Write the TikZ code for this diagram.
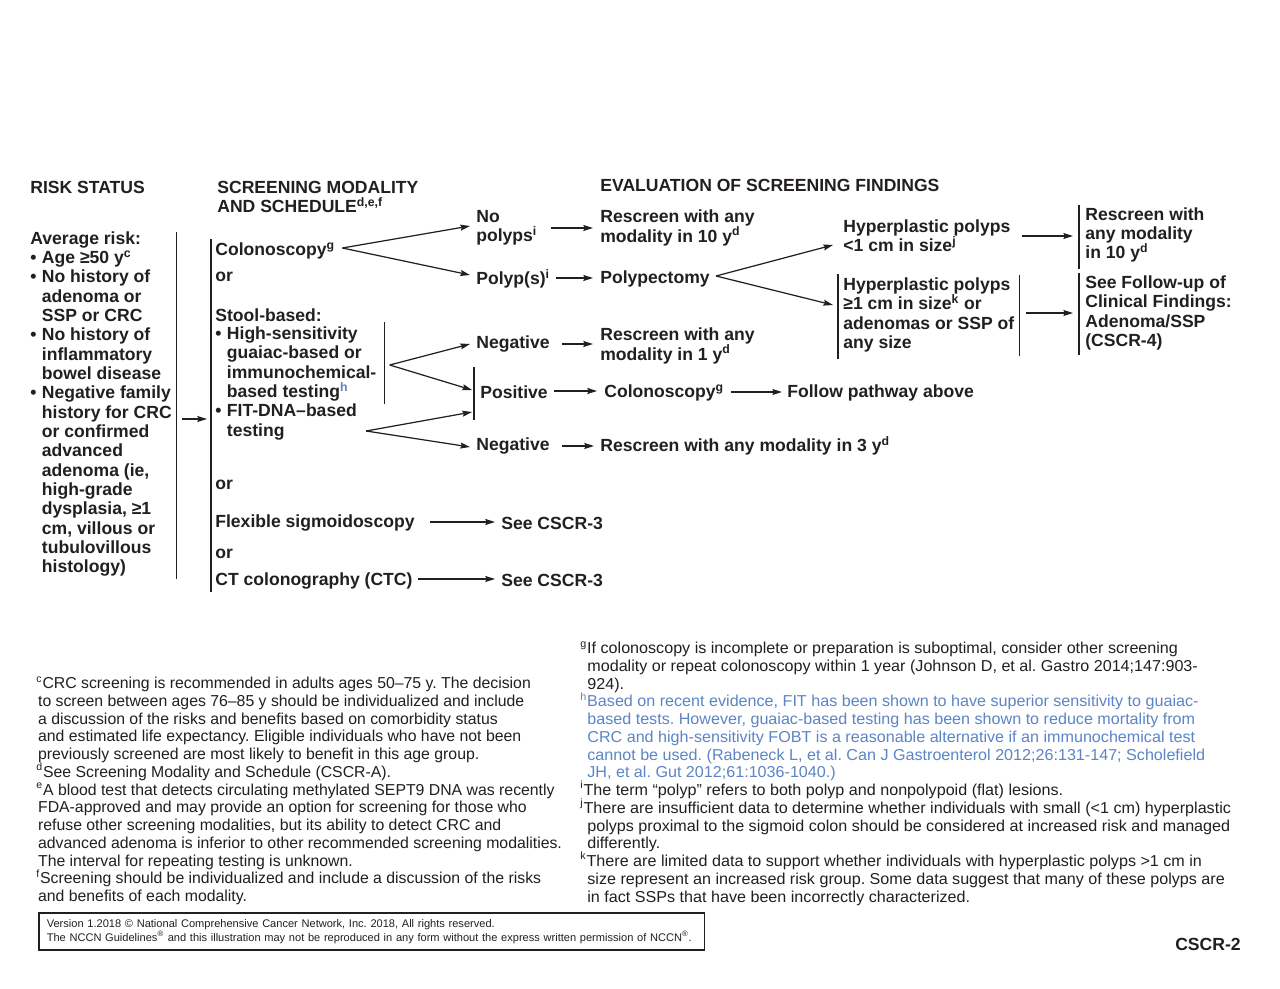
\documentclass[tikz,border=0pt]{standalone}
\usepackage{fontspec}
\setmainfont{Liberation Sans}
\newfontfamily\notefamily[FakeStretch=1.02]{Liberation Sans}
\usetikzlibrary{arrows.meta, calc}
\definecolor{ink}{HTML}{231F20}
\definecolor{noteblue}{HTML}{5B85C6}
\newcommand{\flowfont}{\fontsize{10}{11}\selectfont\bfseries\lineskiplimit=-20pt\relax}
\newcommand{\leftnotefont}{\fontsize{9}{10.1}\selectfont\frenchspacing\lineskiplimit=-20pt\relax}
\newcommand{\rightnotefont}{\notefamily\fontsize{9}{10.1}\selectfont\frenchspacing\lineskiplimit=-20pt\relax}
\newcommand{\itm}{\makebox[6.6pt][l]{•}}
\newcommand{\hng}{\hspace*{6.6pt}}
\newcommand{\sps}[1]{\textsuperscript{#1}}
\newcommand{\bl}{\color{noteblue}}
\tikzset{
  lbl/.style={anchor=west, inner sep=0pt, align=left, font=\flowfont},
  arr/.style={-{Stealth[length=5.5pt, width=3.4pt, inset=0.8pt]}, line width=0.7pt},
  brk/.style={line width=0.7pt},
  fnote/.style={anchor=north west, inner sep=0pt, align=left},
  footbox/.style={draw, line width=0.9pt, anchor=north west, inner xsep=0.16cm,
    inner ysep=0pt, text width=13.0cm, minimum height=0.74cm, align=left,
    font=\fontsize{6.3}{7.9}\selectfont\frenchspacing}
}

\begin{document}
\begin{tikzpicture}[x=0.02cm, y=-0.02cm, color=ink]
\fill[white] (0,0) rectangle (1280,989);
\useasboundingbox (0,0) rectangle (1280,989);

% column heads
\node[lbl] (hrisk) at (30,187) {RISK STATUS};
\node[lbl] (hmod) at (217,197) {SCREENING MODALITY\\AND SCHEDULE\sps{d,e,f}};
\node[lbl] (heval) at (600,185) {EVALUATION OF SCREENING FINDINGS};

% risk status
\node[lbl] (risk) at (30,404) {Average risk:\\\itm Age ≥50 y\sps{c}\\\itm No history of\\\hng adenoma or\\\hng SSP or CRC\\\itm No history of\\\hng inflammatory\\\hng bowel disease\\\itm Negative family\\\hng history for CRC\\\hng or confirmed\\\hng advanced\\\hng adenoma (ie,\\\hng high-grade\\\hng dysplasia, ≥1\\\hng cm, villous or\\\hng tubulovillous\\\hng histology)};
\draw[brk] ($(risk.north east)+(4,1)$) -- ($(risk.south east)+(4,2)$);

% screening modality
\node[lbl] (colo) at (215,251) {Colonoscopy\sps{g}};
\node[lbl] (or1) at (215,277) {or};
\node[lbl] (stool) at (215,315) {Stool-based:};
\node[lbl] (gtest) at (215,364) {\itm High-sensitivity\\\hng guaiac-based or\\\hng immunochemical-\\\hng based testing\sps{\color{noteblue}h}};
\node[lbl] (fit) at (215,422) {\itm FIT-DNA–based\\\hng testing};
\node[lbl] (or2) at (215,485) {or};
\node[lbl] (flex) at (215,523) {Flexible sigmoidoscopy};
\node[lbl] (or3) at (215,554) {or};
\node[lbl] (ctc) at (215,581) {CT colonography (CTC)};
\coordinate (mtop) at ($(colo.north west)+(-4,-3)$);
\coordinate (mbot) at ($(ctc.south west)+(-4,2)$);
\draw[brk] (mtop) -- (mbot);
\coordinate (rarr) at ($(risk.east)+(10,15)$);
\draw[arr, shorten >=2.3pt] (rarr) -- (rarr -| mtop);

% evaluation of findings
\node[lbl] (nopol) at (476,228) {No\\polyps\sps{i}};
\node[lbl] (polyp) at (476,279) {Polyp(s)\sps{i}};
\node[lbl] (neg1) at (476,344) {Negative};
\node[lbl] (pos) at (480,392) {Positive};
\node[lbl] (neg3) at (476,446) {Negative};
\node[lbl] (see1) at (501,523) {See CSCR-3};
\node[lbl] (see2) at (501,580) {See CSCR-3};

\node[lbl] (rs10) at (600,228) {Rescreen with any\\modality in 10 y\sps{d}};
\node[lbl] (polypect) at (600,279) {Polypectomy};
\node[lbl] (rs1) at (600,346) {Rescreen with any\\modality in 1 y\sps{d}};
\node[lbl] (colo2) at (604,393) {Colonoscopy\sps{g}};
\node[lbl] (follow) at (787,393) {Follow pathway above};
\node[lbl] (rs3) at (600,446) {Rescreen with any modality in 3 y\sps{d}};

\node[lbl] (hyp1) at (843,236) {Hyperplastic polyps\\<1 cm in size\sps{j}};
\node[lbl] (hyp2) at (843,315) {Hyperplastic polyps\\≥1 cm in size\sps{k} or\\adenomas or SSP of\\any size};
\node[lbl] (rsany) at (1085,235) {Rescreen with\\any modality\\in 10 y\sps{d}};
\node[lbl] (fup) at (1085,313) {See Follow-up of\\Clinical Findings:\\Adenoma/SSP\\(CSCR-4)};

% brackets
\draw[brk] ($(gtest.north east)+(8,-4)$) -- ($(gtest.south east)+(8,2)$);
\draw[brk] ($(pos.west)+(-6,-25)$) -- ($(pos.west)+(-6,28)$);
\draw[brk] ($(hyp2.north west)+(-5,-3)$) -- ($(hyp2.south west)+(-5,6)$);
\draw[brk] ($(hyp2.north east)+(5,-2)$) -- ($(hyp2.south east)+(5,3)$);
\draw[brk] ($(rsany.north west)+(-6,-2)$) -- ($(rsany.south west)+(-6,6)$);
\draw[brk] ($(fup.north west)+(-6,-2)$) -- ($(fup.south west)+(-6,4)$);

% branches
\coordinate (ctip) at ($(colo.east)+(7,-3)$);
\draw[arr] (ctip) -- ($(nopol.west)+(-6,-2)$);
\draw[arr] (ctip) -- ($(polyp.west)+(-6,-4)$);
\coordinate (gtip) at ($(gtest.east)+(13,1)$);
\draw[arr] (gtip) -- ($(neg1.west)+(-6,0)$);
\draw[arr] (gtip) -- ($(pos.west)+(-8,-2)$);
\coordinate (ftip) at ($(fit.east)+(9,9)$);
\draw[arr] (ftip) -- ($(pos.west)+(-8,20)$);
\draw[arr] (ftip) -- ($(neg3.west)+(-6,1)$);
\coordinate (ptip) at ($(polypect.east)+(6,-3)$);
\draw[arr] (ptip) -- ($(hyp1.west)+(-10,9)$);
\draw[arr] (ptip) -- ($(hyp2.west)+(-10,-10)$);

% straight arrows
\draw[arr] ($(nopol.east)+(13,0)$) -- ($(rs10.west)+(-7,0)$);
\draw[arr] ($(polyp.east)+(6,-1)$) -- ($(polypect.west)+(-7,-1)$);
\draw[arr] ($(neg1.east)+(12,0)$) -- ($(rs1.west |- neg1.east)+(-7,0)$);
\draw[arr] ($(pos.east)+(6,-1)$) -- ($(colo2.west |- pos.east)+(-7,-1)$);
\draw[arr] ($(colo2.east)+(7,-1)$) -- ($(follow.west)+(-5,-1)$);
\draw[arr] ($(neg3.east)+(12,0)$) -- ($(rs3.west)+(-6,0)$);
\draw[arr] ($(flex.east)+(15,-1)$) -- ($(see1.west |- flex.east)+(-6,-1)$);
\draw[arr] ($(ctc.east)+(5,-2)$) -- ($(see2.west |- ctc.east)+(-6,-2)$);
\draw[arr] ($(hyp1.east)+(11,0)$) -- ($(rsany.west |- hyp1.east)+(-12,0)$);
\draw[arr] ($(hyp2.east)+(11,-2)$) -- ($(fup.west |- hyp2.east)+(-12,-2)$);

% footnotes
\node[fnote, font=\leftnotefont] (fnleft) at (36,676) {\sps{c}CRC screening is recommended in adults ages 50–75 y. The decision\\
\hspace*{1pt}to screen between ages 76–85 y should be individualized and include\\
\hspace*{1pt}a discussion of the risks and benefits based on comorbidity status\\
\hspace*{1pt}and estimated life expectancy. Eligible individuals who have not been\\
\hspace*{1pt}previously screened are most likely to benefit in this age group.\\
\sps{d}See Screening Modality and Schedule (CSCR-A).\\
\sps{e}A blood test that detects circulating methylated SEPT9 DNA was recently\\
\hspace*{1pt}FDA-approved and may provide an option for screening for those who\\
\hspace*{1pt}refuse other screening modalities, but its ability to detect CRC and\\
\hspace*{1pt}advanced adenoma is inferior to other recommended screening modalities.\\
\hspace*{1pt}The interval for repeating testing is unknown.\\
\sps{f}Screening should be individualized and include a discussion of the risks\\
\hspace*{1pt}and benefits of each modality.};

\node[fnote, font=\rightnotefont] (fnright) at (580,641) {\sps{g}If colonoscopy is incomplete or preparation is suboptimal, consider other screening\\
\hspace*{4pt}modality or repeat colonoscopy within 1 year (Johnson D, et al. Gastro 2014;147:903-\\
\hspace*{4pt}924).\\
\bl\sps{h}Based on recent evidence, FIT has been shown to have superior sensitivity to guaiac-\\
\bl\hspace*{4pt}based tests. However, guaiac-based testing has been shown to reduce mortality from\\
\bl\hspace*{4pt}CRC and high-sensitivity FOBT is a reasonable alternative if an immunochemical test\\
\bl\hspace*{4pt}cannot be used. (Rabeneck L, et al. Can J Gastroenterol 2012;26:131-147; Scholefield\\
\bl\hspace*{4pt}JH, et al. Gut 2012;61:1036-1040.)\\
\color{ink}\sps{i}The term “polyp” refers to both polyp and nonpolypoid (flat) lesions.\\
\sps{j}There are insufficient data to determine whether individuals with small (<1 cm) hyperplastic\\
\hspace*{4pt}polyps proximal to the sigmoid colon should be considered at increased risk and managed\\
\hspace*{4pt}differently.\\
\sps{k}There are limited data to support whether individuals with hyperplastic polyps >1 cm in\\
\hspace*{4pt}size represent an increased risk group. Some data suggest that many of these polyps are\\
\hspace*{4pt}in fact SSPs that have been incorrectly characterized.};

% copyright box and page tag
\node[footbox] (copy) at (38,912) {Version 1.2018 © National Comprehensive Cancer Network, Inc. 2018, All rights reserved.\\The NCCN Guidelines\sps{®} and this illustration may not be reproduced in any form without the express written permission of NCCN\sps{®}.};
\node[anchor=east, inner sep=0pt, font=\fontsize{10}{12}\selectfont\bfseries] (page) at (1241,944) {CSCR-2};
\end{tikzpicture}
\end{document}
